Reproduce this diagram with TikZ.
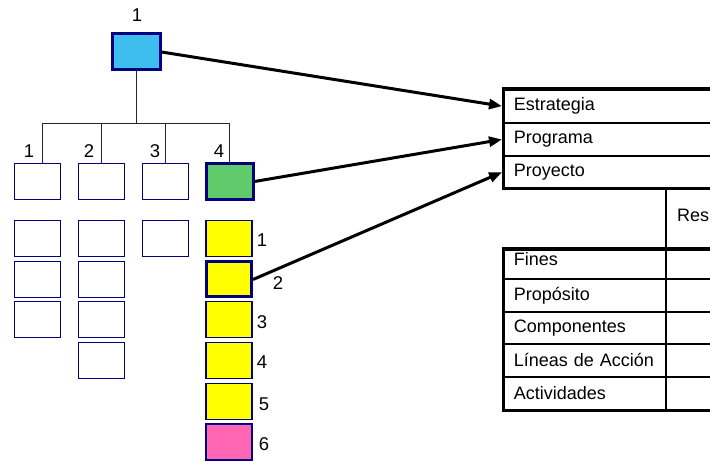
\documentclass[tikz,border=0pt]{standalone}
\usepackage{fontspec}
\setmainfont{Liberation Sans}
\usetikzlibrary{arrows.meta}
\definecolor{navy}{HTML}{000080}
\definecolor{skyfill}{HTML}{3DBEEC}
\definecolor{greenfill}{HTML}{5FCB6A}
\definecolor{yellowfill}{HTML}{FFFF00}
\definecolor{pinkfill}{HTML}{FF66B3}
\tikzset{
  box/.style={draw=navy, line width=1.9pt, fill=white, minimum width=46pt, minimum height=36pt, inner sep=0pt},
  keybox/.style={box, line width=3pt, minimum width=47pt, minimum height=36pt},
  num/.style={font=\fontsize{18.5}{21}\selectfont, inner sep=0pt},
  tree/.style={draw=black!85, line width=0.8pt},
  link/.style={draw=black, line width=3pt, -{Triangle[length=13pt,width=10pt]}, shorten >=1pt},
  rowcell/.style={draw=black, line width=1.6pt, anchor=north west, inner xsep=10pt, inner ysep=0pt,
    text width=200pt, align=left, font=\fontsize{18}{21}\selectfont},
  frame/.style={draw=black, line width=3pt}
}
\begin{document}
\begin{tikzpicture}[x=1pt,y=-1pt]
\useasboundingbox (0,0) rectangle (710,462);
\clip (0,0) rectangle (710,462);

% top-level element and its number
\node[keybox, fill=skyfill, minimum width=48pt] (top) at (136,52) {};
\node[num] (ntop) at (137,15) {1};

% second level
\node[box] (c1) at (37.5,181.5) {};
\node[box] (c2) at (101.5,181.5) {};
\node[box] (c3) at (165.5,181.5) {};
\node[keybox, fill=greenfill] (c4) at (229.5,181.5) {};
\node[num] (n1) at (29,151) {1};
\node[num] (n2) at (89,151) {2};
\node[num] (n3) at (155,151) {3};
\node[num] (n4) at (219,151) {4};

% tree connectors
\coordinate (bus) at (136,123);
\draw[tree] (top.south) -- (bus);
\draw[tree] (bus) -| ([xshift=4.5pt]c1.north);
\draw[tree] (bus) -| (c2.north);
\draw[tree] (bus) -| (c3.north);
\draw[tree] (bus) -| (c4.north);

% third level, column 1
\node[box] (a1) at (37.5,238.5) {};
\node[box] (a2) at (37.5,279.5) {};
\node[box] (a3) at (37.5,319.5) {};
% column 2
\node[box] (b1) at (101.5,238.5) {};
\node[box] (b2) at (101.5,279.5) {};
\node[box] (b3) at (101.5,319.5) {};
\node[box] (b4) at (101.5,360.5) {};
% column 3
\node[box] (d1) at (165.5,238.5) {};
% column 4
\node[box, fill=yellowfill] (y1) at (229,238.5) {};
\node[keybox, fill=yellowfill, minimum width=45pt, minimum height=35pt] (y2) at (229,279.5) {};
\node[box, fill=yellowfill] (y3) at (229,319.5) {};
\node[box, fill=yellowfill] (y4) at (229,360.5) {};
\node[box, fill=yellowfill] (y5) at (229,401.5) {};
\node[box, fill=pinkfill] (y6) at (229,442) {};
\node[num] (m1) at (262,240) {1};
\node[num] (m2) at (278,283) {2};
\node[num] (m3) at (262,322) {3};
\node[num] (m4) at (262,362) {4};
\node[num] (m5) at (264,404) {5};
\node[num] (m6) at (264,444) {6};

% upper table
\node[rowcell, minimum height=33pt] (est) at (503,89) {Estrategia};
\node[rowcell, minimum height=33pt] (pro) at (503,122) {Programa};
\node[rowcell, minimum height=32pt] (pry) at (503,155) {Proyecto};
\draw[frame] (est.north west) rectangle (pry.south east);

% lower table
\node[rowcell, minimum height=29pt, text height=13pt, text depth=11pt] (fin) at (503,249) {Fines};
\node[rowcell, minimum height=33pt] (prp) at (503,278) {Propósito};
\node[rowcell, minimum height=32pt] (com) at (503,311) {Componentes};
\node[rowcell, minimum height=33pt] (lin) at (503,343) {Líneas de Acción};
\node[rowcell, minimum height=33pt] (act) at (503,376) {Actividades};
\draw[frame] (fin.north west) rectangle (act.south east);
\coordinate (colTop) at (666,187);
\coordinate (colBot) at (666,409);
\draw[black, line width=2.5pt] (colTop) -- (colBot);
\node[font=\fontsize{18}{21}\selectfont, inner sep=0pt, anchor=west] (res) at (677,215) {Res};

% links to the table
\draw[link] (top.east) -- (est.west);
\draw[link] (c4.east) -- (pro.west);
\draw[link] (y2.east) -- (pry.west);
\end{tikzpicture}
\end{document}
